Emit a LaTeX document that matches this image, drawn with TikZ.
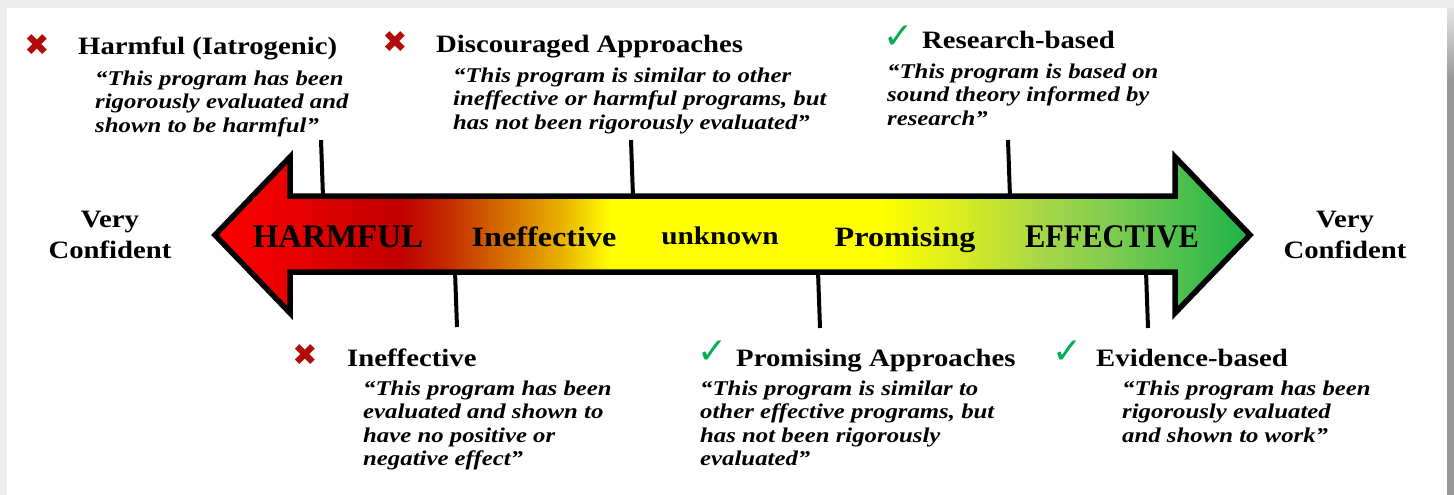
\documentclass[tikz,border=0pt]{standalone}
\usepackage{fontspec}
\setmainfont{Liberation Serif}
\newfontfamily\hdr{Liberation Serif}[FakeStretch=1.15]
\newfontfamily\qfont{Liberation Serif}[FakeStretch=1.18]
\newfontfamily\cond{Liberation Serif}[FakeStretch=0.92]
\newfontfamily\sym{DejaVu Sans}
\definecolor{xred}{HTML}{B40A0A}
\definecolor{cgreen}{HTML}{00B050}
\definecolor{s1}{HTML}{FF0000}
\definecolor{s2}{HTML}{E60000}
\definecolor{s3}{HTML}{C00000}
\definecolor{s4}{HTML}{C42400}
\definecolor{s5}{HTML}{D46A00}
\definecolor{s6}{HTML}{E8B000}
\definecolor{s7}{HTML}{FFFF00}
\definecolor{s8}{HTML}{D8EC20}
\definecolor{s9}{HTML}{A8D848}
\definecolor{s10}{HTML}{80CC50}
\definecolor{s11}{HTML}{1DB34A}
\pgfdeclarehorizontalshading{spectrum}{100bp}{color(0bp)=(s1); color(25bp)=(s1); color(29.1bp)=(s2); color(33.9bp)=(s3); color(35.9bp)=(s4); color(38.8bp)=(s5); color(41.7bp)=(s6); color(44.1bp)=(s7); color(57.1bp)=(s7); color(61bp)=(s8); color(64.9bp)=(s9); color(68.2bp)=(s10); color(75bp)=(s11); color(100bp)=(s11)}
\pgfdeclareverticalshading{rshadow}{100bp}{color(0bp)=(black!40); color(25bp)=(black!40); color(67bp)=(black!40); color(75bp)=(black!7); color(100bp)=(black!7)}
\begin{document}
\begin{tikzpicture}[x=1pt,y=-1pt,
  hdrtext/.style={anchor=base west, inner sep=0pt, font=\hdr\bfseries\fontsize{25}{28}\selectfont},
  quotetext/.style={anchor=north west, inner sep=0pt, align=left, font=\qfont\bfseries\itshape\fontsize{21}{23.5}\selectfont},
  xmark/.style={inner sep=0pt, text=xred, font=\sym\bfseries\fontsize{30}{30}\selectfont},
  cmark/.style={inner sep=0pt, text=cgreen, font=\sym\fontsize{36}{36}\selectfont},
  arrowlbl/.style={anchor=base, inner sep=0pt},
  sidelbl/.style={inner sep=0pt, align=center, font=\hdr\bfseries\fontsize{25}{31}\selectfont},
  tickline/.style={line width=4pt}]
% frame
\fill[black!7] (0,0) rectangle (1454,495);
\shade[shading=rshadow] (1447,0) rectangle (1454,495);
\fill[black!7] (1447,0) rectangle (1454,8);
\fill[white] (7,8) rectangle (1447,495);
% arrow
\draw[line width=5.5pt, miter limit=10, shading=spectrum]
  (215,235) -- (290,157) -- (290,196) -- (1175,196) -- (1175,157) -- (1250,235)
  -- (1175,313) -- (1175,272) -- (290,272) -- (290,313) -- cycle;
\node[arrowlbl, font=\bfseries\fontsize{33}{33}\selectfont] (lHarm) at (338,247) {HARMFUL};
\node[arrowlbl, font=\hdr\bfseries\fontsize{28}{28}\selectfont] (lIneff) at (544,246) {Ineffective};
\node[arrowlbl, font=\hdr\bfseries\fontsize{25.5}{25.5}\selectfont] (lUnk) at (720,244) {unknown};
\node[arrowlbl, font=\hdr\bfseries\fontsize{28}{28}\selectfont] (lProm) at (905,246) {Promising};
\node[arrowlbl, font=\cond\bfseries\fontsize{33}{33}\selectfont] (lEff) at (1112,247) {EFFECTIVE};
% side labels
\node[sidelbl] (vcL) at (110,235) {Very\\Confident};
\node[sidelbl] (vcR) at (1345,235) {Very\\Confident};
% tick lines
\coordinate (t1a) at (321,140); \coordinate (t1b) at (323,197);
\coordinate (t2a) at (631,140); \coordinate (t2b) at (633,197);
\coordinate (t3a) at (1008,140); \coordinate (t3b) at (1010,197);
\coordinate (b1a) at (455,271); \coordinate (b1b) at (457,327);
\coordinate (b2a) at (818,271); \coordinate (b2b) at (820,328);
\coordinate (b3a) at (1146,271); \coordinate (b3b) at (1148,328);
\draw[tickline] (t1a) -- (t1b);
\draw[tickline] (t2a) -- (t2b);
\draw[tickline] (t3a) -- (t3b);
\draw[tickline] (b1a) -- (b1b);
\draw[tickline] (b2a) -- (b2b);
\draw[tickline] (b3a) -- (b3b);
% 1 Harmful
\node[xmark] (m1) at (37,45) {✖};
\node[hdrtext] (h1) at (78,55) {Harmful (Iatrogenic)};
\node[quotetext] (q1) at (95,70.5) {“This program has been\\rigorously evaluated and\\shown to be harmful”};
% 2 Discouraged
\node[xmark] (m2) at (395,42) {✖};
\node[hdrtext] (h2) at (436,53) {Discouraged Approaches};
\node[quotetext] (q2) at (453,67.5) {“This program is similar to other\\ineffective or harmful programs, but\\has not been rigorously evaluated”};
% 3 Research
\node[cmark] (m3) at (899,37) {✓};
\node[hdrtext] (h3) at (922,49) {Research-based};
\node[quotetext] (q3) at (887,63.5) {“This program is based on\\sound theory informed by\\research”};
% 4 Ineffective
\node[xmark] (m4) at (305,355) {✖};
\node[hdrtext] (h4) at (347,366) {Ineffective};
\node[quotetext] (q4) at (363,380.5) {“This program has been\\evaluated and shown to\\have no positive or\\negative effect”};
% 5 Promising
\node[cmark] (m5) at (713,352) {✓};
\node[hdrtext] (h5) at (736,366) {Promising Approaches};
\node[quotetext] (q5) at (700,380.5) {“This program is similar to\\other effective programs, but\\has not been rigorously\\evaluated”};
% 6 Evidence
\node[cmark] (m6) at (1068,352) {✓};
\node[hdrtext] (h6) at (1096,366) {Evidence-based};
\node[quotetext] (q6) at (1122,380.5) {“This program has been\\rigorously evaluated\\and shown to work”};
\end{tikzpicture}
\end{document}
